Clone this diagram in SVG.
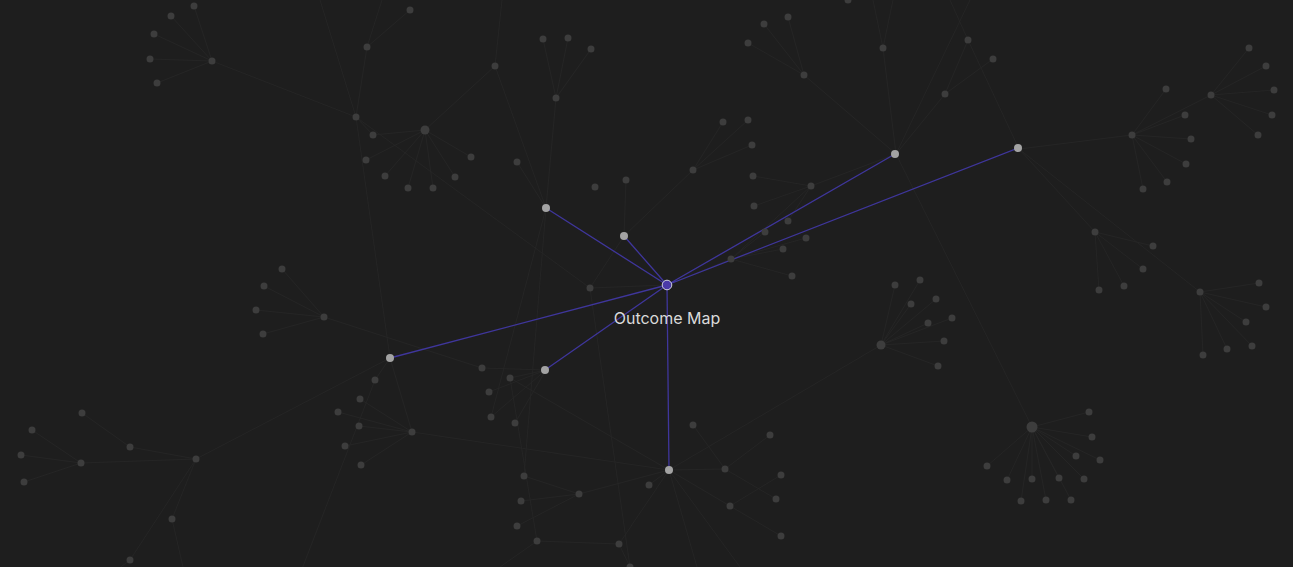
<svg xmlns="http://www.w3.org/2000/svg" width="1293" height="567" viewBox="0 0 1293 567">
<style>
.e{stroke:#262626;stroke-width:0.9;fill:none}
.h{stroke:#3f369c;stroke-width:1.3;fill:none}
.d circle{fill:#3d3d3d}
.n circle{fill:#a3a3a3}
.lbl{font-family:Inter,"Noto Sans",sans-serif;font-size:16px;fill:#dadada}
</style>
<rect width="1293" height="567" fill="#1e1e1e"/>
<g id="connectors">
<path class="e" d="M212 61L194 6M212 61L171 16M212 61L154 34M212 61L150 59M212 61L157 83M212 61L356 117M356 117L320 0M356 117L367 47M356 117L373 135M356 117L390 358M356 117L590 288M367 47L382 0M367 47L410 10"/>
<path class="e" d="M425 130L373 135M425 130L366 160M425 130L385 176M425 130L408 188M425 130L433 188M425 130L455 177M425 130L471 157M425 130L495 66M495 66L502 0M495 66L546 208M556 98L543 39M556 98L568 38M556 98L591 49M556 98L546 208M517 162L546 208M546 208L524 476M546 208L491 417"/>
<path class="e" d="M624 236L626 180M624 236L693 170M624 236L590 288M590 288L667 285M590 288L630 567M693 170L723 122M693 170L748 120M693 170L752 145M811 186L753 176M811 186L754 206M811 186L896 154M811 186L731 259M811 186L788 221M731 259L792 276M731 259L765 232M731 259L806 238M731 259L783 249M731 259L667 285"/>
<path class="e" d="M804 75L748 43M804 75L764 24M804 75L788 17M804 75L896 154M883 48L873 0M883 48L893 0M883 48L896 154M945 94L968 40M945 94L993 59M945 94L896 154M896 154L970 0M896 154L1032 427M968 40L950 0M968 40L1019 149"/>
<path class="e" d="M1019 149L1132 135M1019 149L1095 232M1019 149L1200 292M1132 135L1166 89M1132 135L1185 115M1132 135L1191 139M1132 135L1186 164M1132 135L1167 182M1132 135L1143 189M1132 135L1211 95M1211 95L1249 48M1211 95L1266 66M1211 95L1274 90M1211 95L1272 115M1211 95L1258 135"/>
<path class="e" d="M1095 232L1153 246M1095 232L1143 269M1095 232L1124 286M1095 232L1099 290M1200 292L1259 283M1200 292L1266 307M1200 292L1246 322M1200 292L1252 346M1200 292L1227 349M1200 292L1203 355"/>
<path class="e" d="M881 345L895 285M881 345L920 280M881 345L911 304M881 345L936 299M881 345L928 323M881 345L952 318M881 345L944 341M881 345L938 366M881 345L669 470"/>
<path class="e" d="M1032 427L1089 412M1032 427L1092 437M1032 427L1076 456M1032 427L1100 460M1032 427L987 466M1032 427L1007 480M1032 427L1032 479M1032 427L1059 478M1032 427L1084 479M1032 427L1021 501M1032 427L1046 500M1032 427L1071 500"/>
<path class="e" d="M324 317L282 269M324 317L264 286M324 317L256 310M324 317L263 334M324 317L482 368M390 358L375 380M390 358L412 432M390 358L196 459M375 380L290 600M412 432L360 399M412 432L338 412M412 432L359 426M412 432L345 446M412 432L361 465M412 432L669 470"/>
<path class="e" d="M546 370L482 368M546 370L510 378M546 370L489 392M546 370L491 417M546 370L515 423M510 378L669 470M510 378L537 541"/>
<path class="e" d="M669 470L725 469M693 425L725 469M725 469L770 435M725 469L776 499M730 506L781 475M730 506L781 536M669 470L730 506M669 470L740 567M669 470L697 567M669 470L649 485M669 470L619 544M669 470L579 494M579 494L524 476M579 494L521 501M579 494L517 526M537 541L619 544M537 541L500 567M619 544L630 567"/>
<path class="e" d="M196 459L130 447M196 459L81 463M196 459L172 519M196 459L130 560M130 447L82 413M81 463L32 430M81 463L21 455M81 463L24 482M172 519L183 567M130 560L110 575"/>
<path class="h" d="M667 285L546 208M667 285L624 236M667 285L895 154M667 285L1018 148M667 285L390 358M667 285L545 370M667 285L669 470"/>
</g>
<g id="dim-nodes" class="d">
<g id="d1"><circle cx="212" cy="61" r="3.5"/></g><g id="d2"><circle cx="194" cy="6" r="3.5"/></g><g id="d3"><circle cx="171" cy="16" r="3.5"/></g><g id="d4"><circle cx="154" cy="34" r="3.5"/></g><g id="d5"><circle cx="150" cy="59" r="3.5"/></g><g id="d6"><circle cx="157" cy="83" r="3.5"/></g>
<g id="d7"><circle cx="356" cy="117" r="3.5"/></g><g id="d8"><circle cx="367" cy="47" r="3.5"/></g><g id="d9"><circle cx="410" cy="10" r="3.5"/></g>
<g id="d10"><circle cx="425" cy="130" r="4.5"/></g><g id="d11"><circle cx="373" cy="135" r="3.5"/></g><g id="d12"><circle cx="366" cy="160" r="3.5"/></g><g id="d13"><circle cx="385" cy="176" r="3.5"/></g><g id="d14"><circle cx="408" cy="188" r="3.5"/></g><g id="d15"><circle cx="433" cy="188" r="3.5"/></g><g id="d16"><circle cx="455" cy="177" r="3.5"/></g><g id="d17"><circle cx="471" cy="157" r="3.5"/></g>
<g id="d18"><circle cx="495" cy="66" r="3.5"/></g><g id="d19"><circle cx="543" cy="39" r="3.5"/></g><g id="d20"><circle cx="568" cy="38" r="3.5"/></g><g id="d21"><circle cx="591" cy="49" r="3.5"/></g><g id="d22"><circle cx="556" cy="98" r="3.5"/></g><g id="d23"><circle cx="517" cy="162" r="3.5"/></g><g id="d24"><circle cx="595" cy="187" r="3.5"/></g><g id="d25"><circle cx="626" cy="180" r="3.5"/></g>
<g id="d26"><circle cx="693" cy="170" r="3.5"/></g><g id="d27"><circle cx="723" cy="122" r="3.5"/></g><g id="d28"><circle cx="748" cy="120" r="3.5"/></g><g id="d29"><circle cx="752" cy="145" r="3.5"/></g><g id="d30"><circle cx="753" cy="176" r="3.5"/></g><g id="d31"><circle cx="811" cy="186" r="3.5"/></g><g id="d32"><circle cx="754" cy="206" r="3.5"/></g><g id="d33"><circle cx="788" cy="221" r="3.5"/></g><g id="d34"><circle cx="765" cy="232" r="3.5"/></g><g id="d35"><circle cx="806" cy="238" r="3.5"/></g><g id="d36"><circle cx="783" cy="249" r="3.5"/></g><g id="d37"><circle cx="731" cy="259" r="3.5"/></g><g id="d38"><circle cx="792" cy="276" r="3.5"/></g><g id="d39"><circle cx="590" cy="288" r="3.5"/></g>
<g id="d40"><circle cx="804" cy="75" r="3.5"/></g><g id="d41"><circle cx="748" cy="43" r="3.5"/></g><g id="d42"><circle cx="764" cy="24" r="3.5"/></g><g id="d43"><circle cx="788" cy="17" r="3.5"/></g><g id="d44"><circle cx="848" cy="0" r="3.5"/></g>
<g id="d45"><circle cx="883" cy="48" r="3.5"/></g><g id="d46"><circle cx="968" cy="40" r="3.5"/></g><g id="d47"><circle cx="993" cy="59" r="3.5"/></g><g id="d48"><circle cx="945" cy="94" r="3.5"/></g>
<g id="d49"><circle cx="1132" cy="135" r="3.5"/></g><g id="d50"><circle cx="1166" cy="89" r="3.5"/></g><g id="d51"><circle cx="1185" cy="115" r="3.5"/></g><g id="d52"><circle cx="1191" cy="139" r="3.5"/></g><g id="d53"><circle cx="1186" cy="164" r="3.5"/></g><g id="d54"><circle cx="1167" cy="182" r="3.5"/></g><g id="d55"><circle cx="1143" cy="189" r="3.5"/></g>
<g id="d56"><circle cx="1211" cy="95" r="3.5"/></g><g id="d57"><circle cx="1249" cy="48" r="3.5"/></g><g id="d58"><circle cx="1266" cy="66" r="3.5"/></g><g id="d59"><circle cx="1274" cy="90" r="3.5"/></g><g id="d60"><circle cx="1272" cy="115" r="3.5"/></g><g id="d61"><circle cx="1258" cy="135" r="3.5"/></g>
<g id="d62"><circle cx="1095" cy="232" r="3.5"/></g><g id="d63"><circle cx="1153" cy="246" r="3.5"/></g><g id="d64"><circle cx="1143" cy="269" r="3.5"/></g><g id="d65"><circle cx="1124" cy="286" r="3.5"/></g><g id="d66"><circle cx="1099" cy="290" r="3.5"/></g>
<g id="d67"><circle cx="1200" cy="292" r="3.5"/></g><g id="d68"><circle cx="1259" cy="283" r="3.5"/></g><g id="d69"><circle cx="1266" cy="307" r="3.5"/></g><g id="d70"><circle cx="1246" cy="322" r="3.5"/></g><g id="d71"><circle cx="1252" cy="346" r="3.5"/></g><g id="d72"><circle cx="1227" cy="349" r="3.5"/></g><g id="d73"><circle cx="1203" cy="355" r="3.5"/></g>
<g id="d74"><circle cx="881" cy="345" r="4.5"/></g><g id="d75"><circle cx="895" cy="285" r="3.5"/></g><g id="d76"><circle cx="920" cy="280" r="3.5"/></g><g id="d77"><circle cx="911" cy="304" r="3.5"/></g><g id="d78"><circle cx="936" cy="299" r="3.5"/></g><g id="d79"><circle cx="928" cy="323" r="3.5"/></g><g id="d80"><circle cx="952" cy="318" r="3.5"/></g><g id="d81"><circle cx="944" cy="341" r="3.5"/></g><g id="d82"><circle cx="938" cy="366" r="3.5"/></g>
<g id="d83"><circle cx="1032" cy="427" r="5.5"/></g><g id="d84"><circle cx="1089" cy="412" r="3.5"/></g><g id="d85"><circle cx="1092" cy="437" r="3.5"/></g><g id="d86"><circle cx="1076" cy="456" r="3.5"/></g><g id="d87"><circle cx="1100" cy="460" r="3.5"/></g><g id="d88"><circle cx="987" cy="466" r="3.5"/></g><g id="d89"><circle cx="1007" cy="480" r="3.5"/></g><g id="d90"><circle cx="1032" cy="479" r="3.5"/></g><g id="d91"><circle cx="1059" cy="478" r="3.5"/></g><g id="d92"><circle cx="1084" cy="479" r="3.5"/></g><g id="d93"><circle cx="1021" cy="501" r="3.5"/></g><g id="d94"><circle cx="1046" cy="500" r="3.5"/></g><g id="d95"><circle cx="1071" cy="500" r="3.5"/></g>
<g id="d96"><circle cx="324" cy="317" r="3.5"/></g><g id="d97"><circle cx="282" cy="269" r="3.5"/></g><g id="d98"><circle cx="264" cy="286" r="3.5"/></g><g id="d99"><circle cx="256" cy="310" r="3.5"/></g><g id="d100"><circle cx="263" cy="334" r="3.5"/></g>
<g id="d101"><circle cx="375" cy="380" r="3.5"/></g><g id="d102"><circle cx="360" cy="399" r="3.5"/></g><g id="d103"><circle cx="338" cy="412" r="3.5"/></g><g id="d104"><circle cx="359" cy="426" r="3.5"/></g><g id="d105"><circle cx="345" cy="446" r="3.5"/></g><g id="d106"><circle cx="361" cy="465" r="3.5"/></g><g id="d107"><circle cx="412" cy="432" r="3.5"/></g>
<g id="d108"><circle cx="482" cy="368" r="3.5"/></g><g id="d109"><circle cx="510" cy="378" r="3.5"/></g><g id="d110"><circle cx="489" cy="392" r="3.5"/></g><g id="d111"><circle cx="491" cy="417" r="3.5"/></g><g id="d112"><circle cx="515" cy="423" r="3.5"/></g>
<g id="d113"><circle cx="524" cy="476" r="3.5"/></g><g id="d114"><circle cx="521" cy="501" r="3.5"/></g><g id="d115"><circle cx="517" cy="526" r="3.5"/></g><g id="d116"><circle cx="579" cy="494" r="3.5"/></g><g id="d117"><circle cx="537" cy="541" r="3.5"/></g><g id="d118"><circle cx="619" cy="544" r="3.5"/></g><g id="d119"><circle cx="630" cy="567" r="3.5"/></g><g id="d120"><circle cx="649" cy="485" r="3.5"/></g>
<g id="d121"><circle cx="693" cy="425" r="3.5"/></g><g id="d122"><circle cx="770" cy="435" r="3.5"/></g><g id="d123"><circle cx="725" cy="469" r="3.5"/></g><g id="d124"><circle cx="781" cy="475" r="3.5"/></g><g id="d125"><circle cx="776" cy="499" r="3.5"/></g><g id="d126"><circle cx="730" cy="506" r="3.5"/></g><g id="d127"><circle cx="781" cy="536" r="3.5"/></g>
<g id="d128"><circle cx="82" cy="413" r="3.5"/></g><g id="d129"><circle cx="32" cy="430" r="3.5"/></g><g id="d130"><circle cx="21" cy="455" r="3.5"/></g><g id="d131"><circle cx="24" cy="482" r="3.5"/></g><g id="d132"><circle cx="81" cy="463" r="3.5"/></g><g id="d133"><circle cx="130" cy="447" r="3.5"/></g><g id="d134"><circle cx="196" cy="459" r="3.5"/></g><g id="d135"><circle cx="172" cy="519" r="3.5"/></g><g id="d136"><circle cx="130" cy="560" r="3.5"/></g>
</g>
<g id="neighbors" class="n">
<g id="n1"><circle cx="546" cy="208" r="4"/></g>
<g id="n2"><circle cx="624" cy="236" r="4"/></g>
<g id="n3"><circle cx="895" cy="154" r="4"/></g>
<g id="n4"><circle cx="1018" cy="148" r="4"/></g>
<g id="n5"><circle cx="390" cy="358" r="4"/></g>
<g id="n6"><circle cx="545" cy="370" r="4"/></g>
<g id="n7"><circle cx="669" cy="470" r="4"/></g>
</g>
<g id="outcome-map">
<circle cx="667" cy="285" r="4.8" fill="#4a3aa8" stroke="#d0d0e0" stroke-width="1"/>
<text class="lbl" x="667" y="324" text-anchor="middle">Outcome Map</text>
</g>
</svg>
